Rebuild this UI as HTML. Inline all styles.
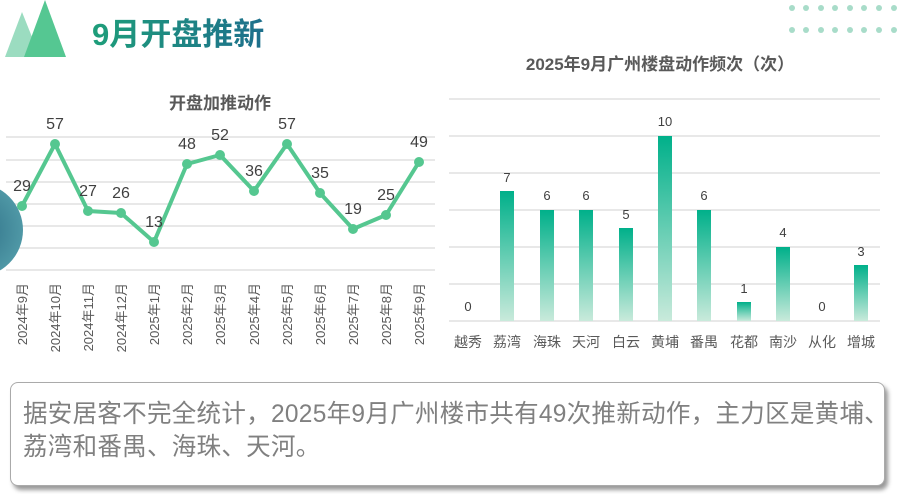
<!DOCTYPE html>
<html><head><meta charset="utf-8"><style>
body{margin:0;width:903px;height:494px;overflow:hidden;background:#fff;font-family:"Liberation Sans","Noto Sans CJK SC",sans-serif;position:relative}
.box{position:absolute;left:10px;top:382px;width:873px;height:102px;border:1.5px solid #aaa;border-radius:8px;box-shadow:3px 4px 4px #999;background:#fff}
.box p{margin:0;position:absolute;left:12px;top:15px;font-size:25px;line-height:33px;color:#808080;white-space:nowrap;transform:scaleX(0.98);transform-origin:0 0;letter-spacing:0.3px}
</style></head><body>
<svg width="903" height="494" style="position:absolute;left:0;top:0" font-family="Liberation Sans, Noto Sans CJK SC, sans-serif">
<defs>
<linearGradient id="tg" x1="0" x2="1"><stop offset="0" stop-color="#1e9e7a"/><stop offset="1" stop-color="#1d6f8c"/></linearGradient>
<linearGradient id="bg" x1="0" y1="0" x2="0" y2="1"><stop offset="0" stop-color="#00b08a"/><stop offset="1" stop-color="#c9eadb"/></linearGradient>
<radialGradient id="cg"><stop offset="0" stop-color="#2e6f86"/><stop offset="1" stop-color="#4f98a6"/></radialGradient>
</defs>
<polygon points="5,57 22,12 40,57" fill="#9bdcc0"/>
<polygon points="24,57 45,0 66,57" fill="#55c792"/>
<text x="92" y="45" font-size="31" font-weight="bold" fill="url(#tg)">9月开盘推新</text>
<g fill="#a8dcc9">
<circle cx="792" cy="8" r="3"/><circle cx="806" cy="8" r="3"/><circle cx="821" cy="8" r="3"/><circle cx="835" cy="8" r="3"/><circle cx="850" cy="8" r="3"/><circle cx="864" cy="8" r="3"/><circle cx="879" cy="8" r="3"/><circle cx="894" cy="8" r="3"/>
<circle cx="792" cy="30" r="3"/><circle cx="806" cy="30" r="3"/><circle cx="821" cy="30" r="3"/><circle cx="835" cy="30" r="3"/><circle cx="850" cy="30" r="3"/><circle cx="864" cy="30" r="3"/><circle cx="879" cy="30" r="3"/><circle cx="894" cy="30" r="3"/>
</g>
<text x="220" y="109" font-size="17" font-weight="bold" fill="#595959" text-anchor="middle">开盘加推动作</text>
<g stroke="#d9d9d9" stroke-width="1.3">
<line x1="6" x2="435" y1="137" y2="137"/><line x1="6" x2="435" y1="160" y2="160"/><line x1="6" x2="435" y1="182" y2="182"/><line x1="6" x2="435" y1="204" y2="204"/><line x1="6" x2="435" y1="226" y2="226"/><line x1="6" x2="435" y1="248" y2="248"/><line x1="6" x2="435" y1="270" y2="270"/>
</g>
<circle cx="-24" cy="230" r="47" fill="url(#cg)"/>
<polyline fill="none" stroke="#55c790" stroke-width="4" stroke-linejoin="round" points="22,206 55,144 88,211 121,213 154,242 187,164 220,155 254,191 287,144 320,193 353,229 386,215 419,162"/>
<g fill="#55c790">
<circle cx="22" cy="206" r="5"/><circle cx="55" cy="144" r="5"/><circle cx="88" cy="211" r="5"/><circle cx="121" cy="213" r="5"/><circle cx="154" cy="242" r="5"/><circle cx="187" cy="164" r="5"/><circle cx="220" cy="155" r="5"/><circle cx="254" cy="191" r="5"/><circle cx="287" cy="144" r="5"/><circle cx="320" cy="193" r="5"/><circle cx="353" cy="229" r="5"/><circle cx="386" cy="215" r="5"/><circle cx="419" cy="162" r="5"/>
</g>
<g font-size="16" fill="#404040" text-anchor="middle">
<text x="22" y="191">29</text><text x="55" y="129">57</text><text x="88" y="196">27</text><text x="121" y="198">26</text><text x="154" y="227">13</text><text x="187" y="149">48</text><text x="220" y="140">52</text><text x="254" y="176">36</text><text x="287" y="129">57</text><text x="320" y="178">35</text><text x="353" y="214">19</text><text x="386" y="200">25</text><text x="419" y="147">49</text>
</g>
<g font-size="13" fill="#595959" text-anchor="end">
<text transform="translate(27,283) rotate(-90)">2024年9月</text>
<text transform="translate(60,283) rotate(-90)">2024年10月</text>
<text transform="translate(93,283) rotate(-90)">2024年11月</text>
<text transform="translate(126,283) rotate(-90)">2024年12月</text>
<text transform="translate(159,283) rotate(-90)">2025年1月</text>
<text transform="translate(192,283) rotate(-90)">2025年2月</text>
<text transform="translate(225,283) rotate(-90)">2025年3月</text>
<text transform="translate(259,283) rotate(-90)">2025年4月</text>
<text transform="translate(292,283) rotate(-90)">2025年5月</text>
<text transform="translate(325,283) rotate(-90)">2025年6月</text>
<text transform="translate(358,283) rotate(-90)">2025年7月</text>
<text transform="translate(391,283) rotate(-90)">2025年8月</text>
<text transform="translate(424,283) rotate(-90)">2025年9月</text>
</g>
<text x="660" y="70" font-size="17" font-weight="bold" fill="#595959" text-anchor="middle">2025年9月广州楼盘动作频次（次）</text>
<g stroke="#d9d9d9" stroke-width="1.3">
<line x1="449" x2="880" y1="99" y2="99"/><line x1="449" x2="880" y1="136" y2="136"/><line x1="449" x2="880" y1="173" y2="173"/><line x1="449" x2="880" y1="210" y2="210"/><line x1="449" x2="880" y1="247" y2="247"/><line x1="449" x2="880" y1="284" y2="284"/><line x1="449" x2="880" y1="321" y2="321"/>
</g>
<g fill="url(#bg)">
<rect x="500" y="191" width="14" height="130"/>
<rect x="540" y="210" width="14" height="111"/>
<rect x="579" y="210" width="14" height="111"/>
<rect x="619" y="228" width="14" height="93"/>
<rect x="658" y="136" width="14" height="185"/>
<rect x="697" y="210" width="14" height="111"/>
<rect x="737" y="302" width="14" height="19"/>
<rect x="776" y="247" width="14" height="74"/>
<rect x="854" y="265" width="14" height="56"/>
</g>
<g font-size="13" fill="#404040" text-anchor="middle">
<text x="468" y="311">0</text><text x="507" y="182">7</text><text x="547" y="200">6</text><text x="586" y="200">6</text><text x="626" y="219">5</text><text x="665" y="126">10</text><text x="704" y="200">6</text><text x="744" y="293">1</text><text x="783" y="237">4</text><text x="822" y="311">0</text><text x="861" y="256">3</text>
</g>
<g font-size="14" fill="#595959" text-anchor="middle">
<text x="468" y="347">越秀</text><text x="507" y="347">荔湾</text><text x="547" y="347">海珠</text><text x="586" y="347">天河</text><text x="626" y="347">白云</text><text x="665" y="347">黄埔</text><text x="704" y="347">番禺</text><text x="744" y="347">花都</text><text x="783" y="347">南沙</text><text x="822" y="347">从化</text><text x="861" y="347">增城</text>
</g>
</svg>
<div class="box"><p>据安居客不完全统计，2025年9月广州楼市共有49次推新动作，主力区是黄埔、<br>荔湾和番禺、海珠、天河。</p></div>
</body></html>
